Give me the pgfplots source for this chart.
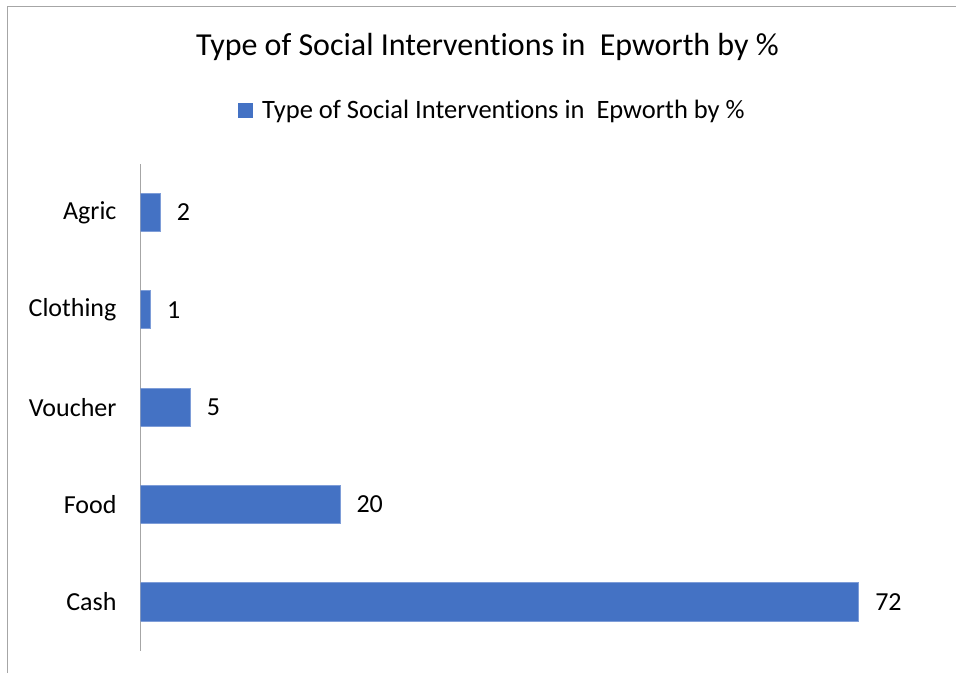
\documentclass[border=0pt]{standalone}
\usepackage{fontspec}
\setmainfont{Carlito}[Ligatures=NoCommon]
\usepackage{pgfplots}
\pgfplotsset{compat=1.18}
\definecolor{barblue}{HTML}{4472C4}
\definecolor{baredge}{HTML}{7E9DD8}
\definecolor{framegray}{HTML}{A6A6A6}

\begin{document}
\begin{tikzpicture}[x=1pt,y=1pt]
\path[use as bounding box] (0,0) rectangle (956,673);
\draw[framegray, line width=1.5pt] (7.5,0) -- (7.5,666.5) -- (956,666.5);
\node[font=\fontsize{32}{37}\selectfont, anchor=center] at (487.5,626) {Type of Social Interventions in\ \ Epworth by \%};
\begin{axis}[
    at={(141,23)}, anchor=south west,
    scale only axis,
    width=798pt, height=487pt,
    xbar,
    xmin=0, xmax=80,
    ymin=-0.5, ymax=4.5,
    bar width=38pt,
    axis x line=none,
    axis y line*=left,
    y axis line style={draw=framegray, line width=1.3pt},
    ytick={0,1,2,3,4},
    yticklabels={Cash,Food,Voucher,Clothing,Agric},
    major tick length=0pt,
    yticklabel style={font=\fontsize{26}{30}\selectfont, inner sep=0pt, xshift=-24pt},
    /pgf/number format/assume math mode=true,
    nodes near coords,
    nodes near coords style={font=\fontsize{26}{30}\selectfont, anchor=west, inner sep=0pt, xshift=16pt},
    legend style={at={(0.441,1.109)}, anchor=center, draw=none, fill=none,
        font=\fontsize{26.5}{30}\selectfont, inner sep=0pt},
    legend image code/.code={\fill[barblue] (0pt,-7pt) rectangle (14pt,7pt); \path (21pt,0pt);},
]
\addplot[fill=barblue, draw=baredge, line width=0.8pt] coordinates {
    (72,0) (20,1) (5,2) (1,3) (2,4)
};
\addlegendentry{Type of Social Interventions in\ \ Epworth by \%}
\end{axis}
\end{tikzpicture}
\end{document}
